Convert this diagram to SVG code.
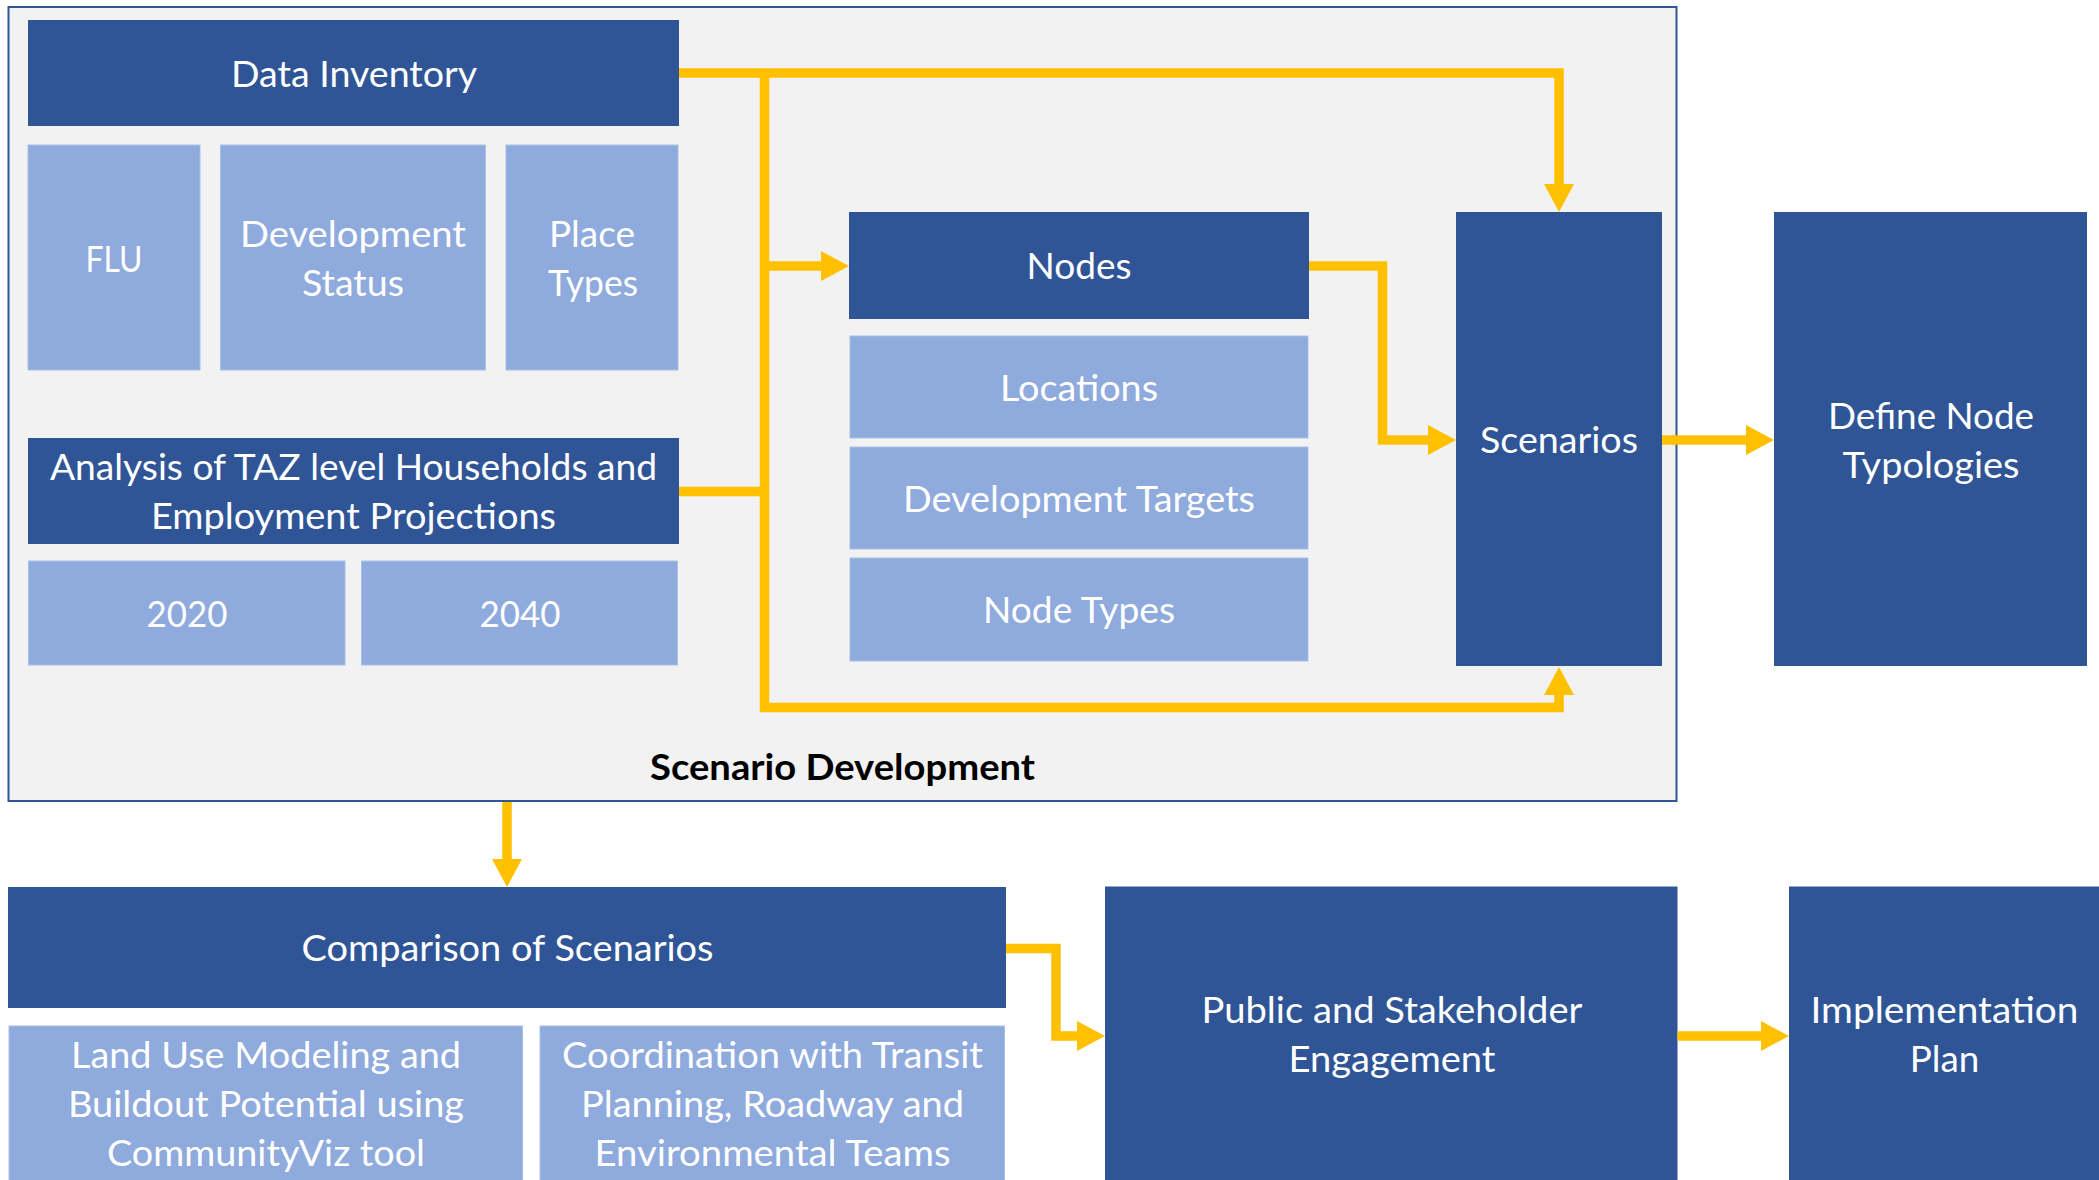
<svg xmlns="http://www.w3.org/2000/svg" width="2099" height="1180" viewBox="0 0 2099 1180">
  <defs>
    <style>
      .dark { fill: #2F5597; }
      .light { fill: #8FAADC; stroke: #A9BFE6; stroke-width: 1; }
      .frame { fill: #F2F2F2; stroke: #2F5597; stroke-width: 2; }
      .lbl { font-family: Lato, "Open Sans", "Liberation Sans", sans-serif; font-size: 36px; fill: #FFFFFF; text-anchor: middle; }
      .title { font-family: Lato, "Open Sans", "Liberation Sans", sans-serif; font-size: 36px; font-weight: bold; fill: #000000; text-anchor: middle; }
      .conn { fill: none; stroke: #FFC000; stroke-width: 9.5; stroke-linejoin: miter; stroke-linecap: butt; }
    </style>
    <marker id="head" viewBox="0 0 28 30" markerWidth="28" markerHeight="30" refX="0" refY="15" orient="auto" markerUnits="userSpaceOnUse">
      <path d="M0,0 L28,15 L0,30 Z" fill="#FFC000"/>
    </marker>
  </defs>

  <rect width="2099" height="1180" fill="#FFFFFF"/>

  <!-- Scenario Development container -->
  <g id="scenario-development">
    <rect class="frame" x="8.5" y="7" width="1668" height="794"/>
    <text class="title" x="842.5" y="780" textLength="385" lengthAdjust="spacingAndGlyphs">Scenario Development</text>
  </g>

  <g id="data-inventory">
    <rect class="dark" x="28" y="20" width="651" height="106"/>
    <text class="lbl" x="354" y="87" textLength="246" lengthAdjust="spacingAndGlyphs">Data Inventory</text>
  </g>
  <g id="flu">
    <rect class="light" x="28" y="145" width="172" height="225"/>
    <text class="lbl" x="114" y="272" textLength="57" lengthAdjust="spacingAndGlyphs">FLU</text>
  </g>
  <g id="development-status">
    <rect class="light" x="220.5" y="145" width="265" height="225"/>
    <text class="lbl" x="353" y="247" textLength="226" lengthAdjust="spacingAndGlyphs">Development</text>
    <text class="lbl" x="353" y="296" textLength="102" lengthAdjust="spacingAndGlyphs">Status</text>
  </g>
  <g id="place-types">
    <rect class="light" x="506" y="145" width="172" height="225"/>
    <text class="lbl" x="592" y="247" textLength="86" lengthAdjust="spacingAndGlyphs">Place</text>
    <text class="lbl" x="593" y="296" textLength="90" lengthAdjust="spacingAndGlyphs">Types</text>
  </g>

  <g id="taz-analysis">
    <rect class="dark" x="28" y="438" width="651" height="106"/>
    <text class="lbl" x="353.5" y="480" textLength="607" lengthAdjust="spacingAndGlyphs">Analysis of TAZ level Households and</text>
    <text class="lbl" x="353.5" y="529" textLength="405" lengthAdjust="spacingAndGlyphs">Employment Projections</text>
  </g>
  <g id="year-2020">
    <rect class="light" x="28.5" y="561" width="316.5" height="104"/>
    <text class="lbl" x="187" y="627" textLength="81" lengthAdjust="spacingAndGlyphs">2020</text>
  </g>
  <g id="year-2040">
    <rect class="light" x="361.5" y="561" width="316" height="104"/>
    <text class="lbl" x="520" y="627" textLength="81" lengthAdjust="spacingAndGlyphs">2040</text>
  </g>

  <g id="nodes">
    <rect class="dark" x="849" y="212" width="460" height="107"/>
    <text class="lbl" x="1079" y="279" textLength="105" lengthAdjust="spacingAndGlyphs">Nodes</text>
  </g>
  <g id="locations">
    <rect class="light" x="850" y="336" width="458" height="102"/>
    <text class="lbl" x="1079" y="401" textLength="158" lengthAdjust="spacingAndGlyphs">Locations</text>
  </g>
  <g id="development-targets">
    <rect class="light" x="850" y="447" width="458" height="102"/>
    <text class="lbl" x="1079" y="512" textLength="352" lengthAdjust="spacingAndGlyphs">Development Targets</text>
  </g>
  <g id="node-types">
    <rect class="light" x="850" y="558" width="458" height="103"/>
    <text class="lbl" x="1079" y="623" textLength="192" lengthAdjust="spacingAndGlyphs">Node Types</text>
  </g>

  <g id="scenarios">
    <rect class="dark" x="1456" y="212" width="206" height="454"/>
    <text class="lbl" x="1559" y="452.5" textLength="158" lengthAdjust="spacingAndGlyphs">Scenarios</text>
  </g>

  <g id="define-node-typologies">
    <rect class="dark" x="1774" y="212" width="313" height="454"/>
    <text class="lbl" x="1931" y="429" textLength="206" lengthAdjust="spacingAndGlyphs">Define Node</text>
    <text class="lbl" x="1931" y="478" textLength="177" lengthAdjust="spacingAndGlyphs">Typologies</text>
  </g>

  <g id="comparison-of-scenarios">
    <rect class="dark" x="8" y="887" width="998" height="121"/>
    <text class="lbl" x="507.5" y="960.5" textLength="412" lengthAdjust="spacingAndGlyphs">Comparison of Scenarios</text>
  </g>
  <g id="land-use-modeling">
    <rect class="light" x="9" y="1026" width="513.5" height="160"/>
    <text class="lbl" x="266" y="1068" textLength="390" lengthAdjust="spacingAndGlyphs">Land Use Modeling and</text>
    <text class="lbl" x="266" y="1117" textLength="396" lengthAdjust="spacingAndGlyphs">Buildout Potential using</text>
    <text class="lbl" x="266" y="1166" textLength="318" lengthAdjust="spacingAndGlyphs">CommunityViz tool</text>
  </g>
  <g id="coordination">
    <rect class="light" x="540" y="1026" width="464.5" height="160"/>
    <text class="lbl" x="772.5" y="1068" textLength="421" lengthAdjust="spacingAndGlyphs">Coordination with Transit</text>
    <text class="lbl" x="772.5" y="1117" textLength="383" lengthAdjust="spacingAndGlyphs">Planning, Roadway and</text>
    <text class="lbl" x="772.5" y="1166" textLength="356" lengthAdjust="spacingAndGlyphs">Environmental Teams</text>
  </g>

  <g id="public-engagement">
    <rect class="dark" x="1105" y="886.5" width="572.5" height="300"/>
    <text class="lbl" x="1392" y="1023" textLength="381" lengthAdjust="spacingAndGlyphs">Public and Stakeholder</text>
    <text class="lbl" x="1392" y="1072" textLength="207" lengthAdjust="spacingAndGlyphs">Engagement</text>
  </g>
  <g id="implementation-plan">
    <rect class="dark" x="1789" y="886.5" width="315" height="300"/>
    <text class="lbl" x="1944.5" y="1023" textLength="268" lengthAdjust="spacingAndGlyphs">Implementation</text>
    <text class="lbl" x="1944.5" y="1072" textLength="69.5" lengthAdjust="spacingAndGlyphs">Plan</text>
  </g>

  <!-- Connectors -->
  <g id="connectors">
    <path class="conn" d="M679,73 H1559 V184" marker-end="url(#head)"/>
    <path class="conn" d="M679,491.5 H764.5"/>
    <path class="conn" d="M764.5,73 V707.5 H1559 V695" marker-end="url(#head)"/>
    <path class="conn" d="M764.5,266 H821" marker-end="url(#head)"/>
    <path class="conn" d="M1309,266 H1382.5 V440 H1428" marker-end="url(#head)"/>
    <path class="conn" d="M1662,440 H1746" marker-end="url(#head)"/>
    <path class="conn" d="M507,802 V859" marker-end="url(#head)"/>
    <path class="conn" d="M1006,948.5 H1056 V1036 H1077" marker-end="url(#head)"/>
    <path class="conn" d="M1677.5,1036 H1761" marker-end="url(#head)"/>
  </g>
</svg>
